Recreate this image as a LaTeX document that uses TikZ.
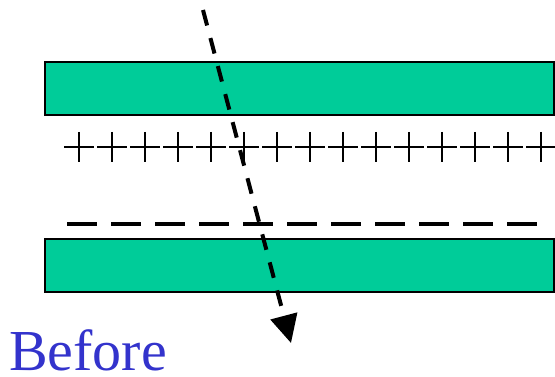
\documentclass[tikz,border=0pt]{standalone}
\usepackage{fontspec}
\setmainfont{Liberation Serif}
\usetikzlibrary{arrows.meta}
\definecolor{plate}{HTML}{00CC99}
\definecolor{label}{HTML}{3333CC}
\begin{document}
\begin{tikzpicture}[
    x=1pt, y=-1pt,
    plate/.style={draw, line width=2pt, fill=plate},
    charge/.style={line width=2.2pt},
    ray/.style={-{Triangle[length=28pt,width=27pt]}, line width=4pt, dash pattern=on 16pt off 13pt}
]
    \useasboundingbox (0,0) rectangle (555,377);
    \draw[plate] (45,62) rectangle (554,115);
    \draw[plate] (45,239) rectangle (554,292);
    % positive charges
    \foreach \i in {0,...,14}
        \draw[charge] (64+33*\i,147) -- +(30,0) (79+33*\i,132) -- +(0,30);
    % negative charges
    \foreach \i in {0,...,10}
        \draw[line width=4pt] (67+44*\i,224) -- +(30,0);
    \coordinate (src) at (203,10);
    \coordinate (dst) at (291,343);
    \draw[ray] (src) -- (dst);
    \node[anchor=base west, inner sep=0pt, text=label, font=\fontsize{58}{60}\selectfont] (lbl) at (9,370) {Before};
\end{tikzpicture}
\end{document}
